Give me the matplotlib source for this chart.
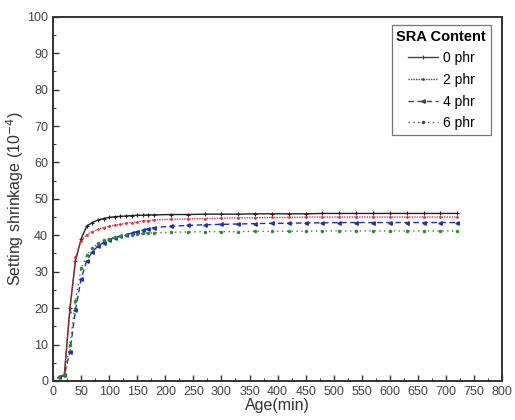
import matplotlib.pyplot as plt
from matplotlib.ticker import MultipleLocator

plt.rcParams["font.family"] = ["Liberation Sans", "DejaVu Sans"]

# sampling times: every 10 min up to 3 h, then every 30 min
age_early = [10, 20, 30, 40, 50, 60, 70, 80, 90, 100, 110, 120, 130, 140, 150, 160, 170, 180]
age_late = [210, 240, 270, 300, 330, 360, 390, 420, 450, 480, 510, 540, 570, 600, 630, 660, 690, 720]
age = age_early + age_late

shrink_0 = [1.0, 1.5, 20.0, 33.0, 39.0, 42.5, 43.5, 44.2, 44.6, 44.9, 45.1, 45.2, 45.3, 45.4, 45.5, 45.5, 45.6, 45.6,
            45.7, 45.7, 45.8, 45.8, 45.8, 45.9, 45.9, 45.9, 45.9, 46.0, 46.0, 46.0, 46.0, 46.0, 46.0, 46.0, 46.0, 46.0]
shrink_2 = [1.0, 1.5, 19.0, 34.0, 38.5, 40.2, 41.0, 41.6, 42.1, 42.5, 42.8, 43.0, 43.3, 43.5, 43.7, 43.9, 44.0, 44.2,
            44.4, 44.5, 44.6, 44.7, 44.8, 44.8, 44.9, 44.9, 45.0, 45.0, 45.0, 45.0, 45.0, 45.0, 45.0, 45.0, 45.0, 45.0]
shrink_4 = [1.0, 1.5, 8.0, 19.5, 28.0, 33.0, 35.5, 37.0, 38.0, 38.8, 39.3, 39.8, 40.2, 40.6, 41.0, 41.4, 41.8, 42.1,
            42.5, 42.7, 42.9, 43.0, 43.1, 43.2, 43.3, 43.3, 43.4, 43.4, 43.5, 43.5, 43.5, 43.5, 43.5, 43.5, 43.5, 43.5]
shrink_6 = [1.0, 1.5, 10.0, 22.0, 31.0, 34.5, 36.5, 37.8, 38.6, 39.1, 39.5, 39.8, 40.0, 40.2, 40.4, 40.5, 40.6, 40.7,
            40.8, 40.9, 41.0, 41.0, 41.0, 41.1, 41.1, 41.1, 41.1, 41.2, 41.2, 41.2, 41.2, 41.2, 41.2, 41.2, 41.2, 41.2]

labels = ["0 phr", "2 phr", "4 phr", "6 phr"]

fig = plt.figure(figsize=(5.15, 4.2), dpi=100)
ax = fig.add_axes([0.103, 0.093, 0.872, 0.867])

ax.plot(age, shrink_0, color="#222222", lw=1.0, ls="-", marker="+", ms=3, mew=0.8, label=labels[0])
ax.plot(age, shrink_2, color="#e0303a", lw=1.0, ls=(0, (1, 0.8)), marker=".", ms=2, label=labels[1])
ax.plot(age, shrink_4, color="#2030b0", lw=1.0, ls=(0, (4, 2.5)), marker="<", ms=2.5, label=labels[2])
ax.plot(age, shrink_6, color="#2a8a3a", lw=1.0, ls=(0, (1, 2.5)), marker=".", ms=3, label=labels[3])

ax.set_xlim(0, 800)
ax.set_ylim(0, 100)
ax.xaxis.set_major_locator(MultipleLocator(50))
ax.xaxis.set_minor_locator(MultipleLocator(25))
ax.yaxis.set_major_locator(MultipleLocator(10))
ax.yaxis.set_minor_locator(MultipleLocator(5))
ax.tick_params(which="both", direction="in", colors="#333333", labelcolor="#444444", labelsize=9)
ax.tick_params(which="major", length=4, width=1.0)
ax.tick_params(which="minor", length=2.5, width=0.8)
for sp in ax.spines.values():
    sp.set_linewidth(1.4)
    sp.set_color("#333333")

ax.set_xlabel("Age(min)", fontsize=11.5, color="#333333", labelpad=0)
ax.set_ylabel("Setting shrinkage (10$^{-4}$)", fontsize=11.5, color="#333333", labelpad=1)

leg = ax.legend(title="SRA Content", loc="upper right", bbox_to_anchor=(0.975, 0.978),
                borderaxespad=0.0, fontsize=10, title_fontsize=10.5, frameon=True, fancybox=False,
                handlelength=2.2, handletextpad=0.3, borderpad=0.35, labelspacing=0.55)
leg.get_frame().set_edgecolor("#555555")
leg.get_frame().set_linewidth(0.9)
leg.get_title().set_fontweight("bold")
for h in leg.legend_handles:
    h.set_color("#444444")
    h.set_markerfacecolor("#444444")
    h.set_markeredgecolor("#444444")

fig.savefig("out.png", dpi=100)
